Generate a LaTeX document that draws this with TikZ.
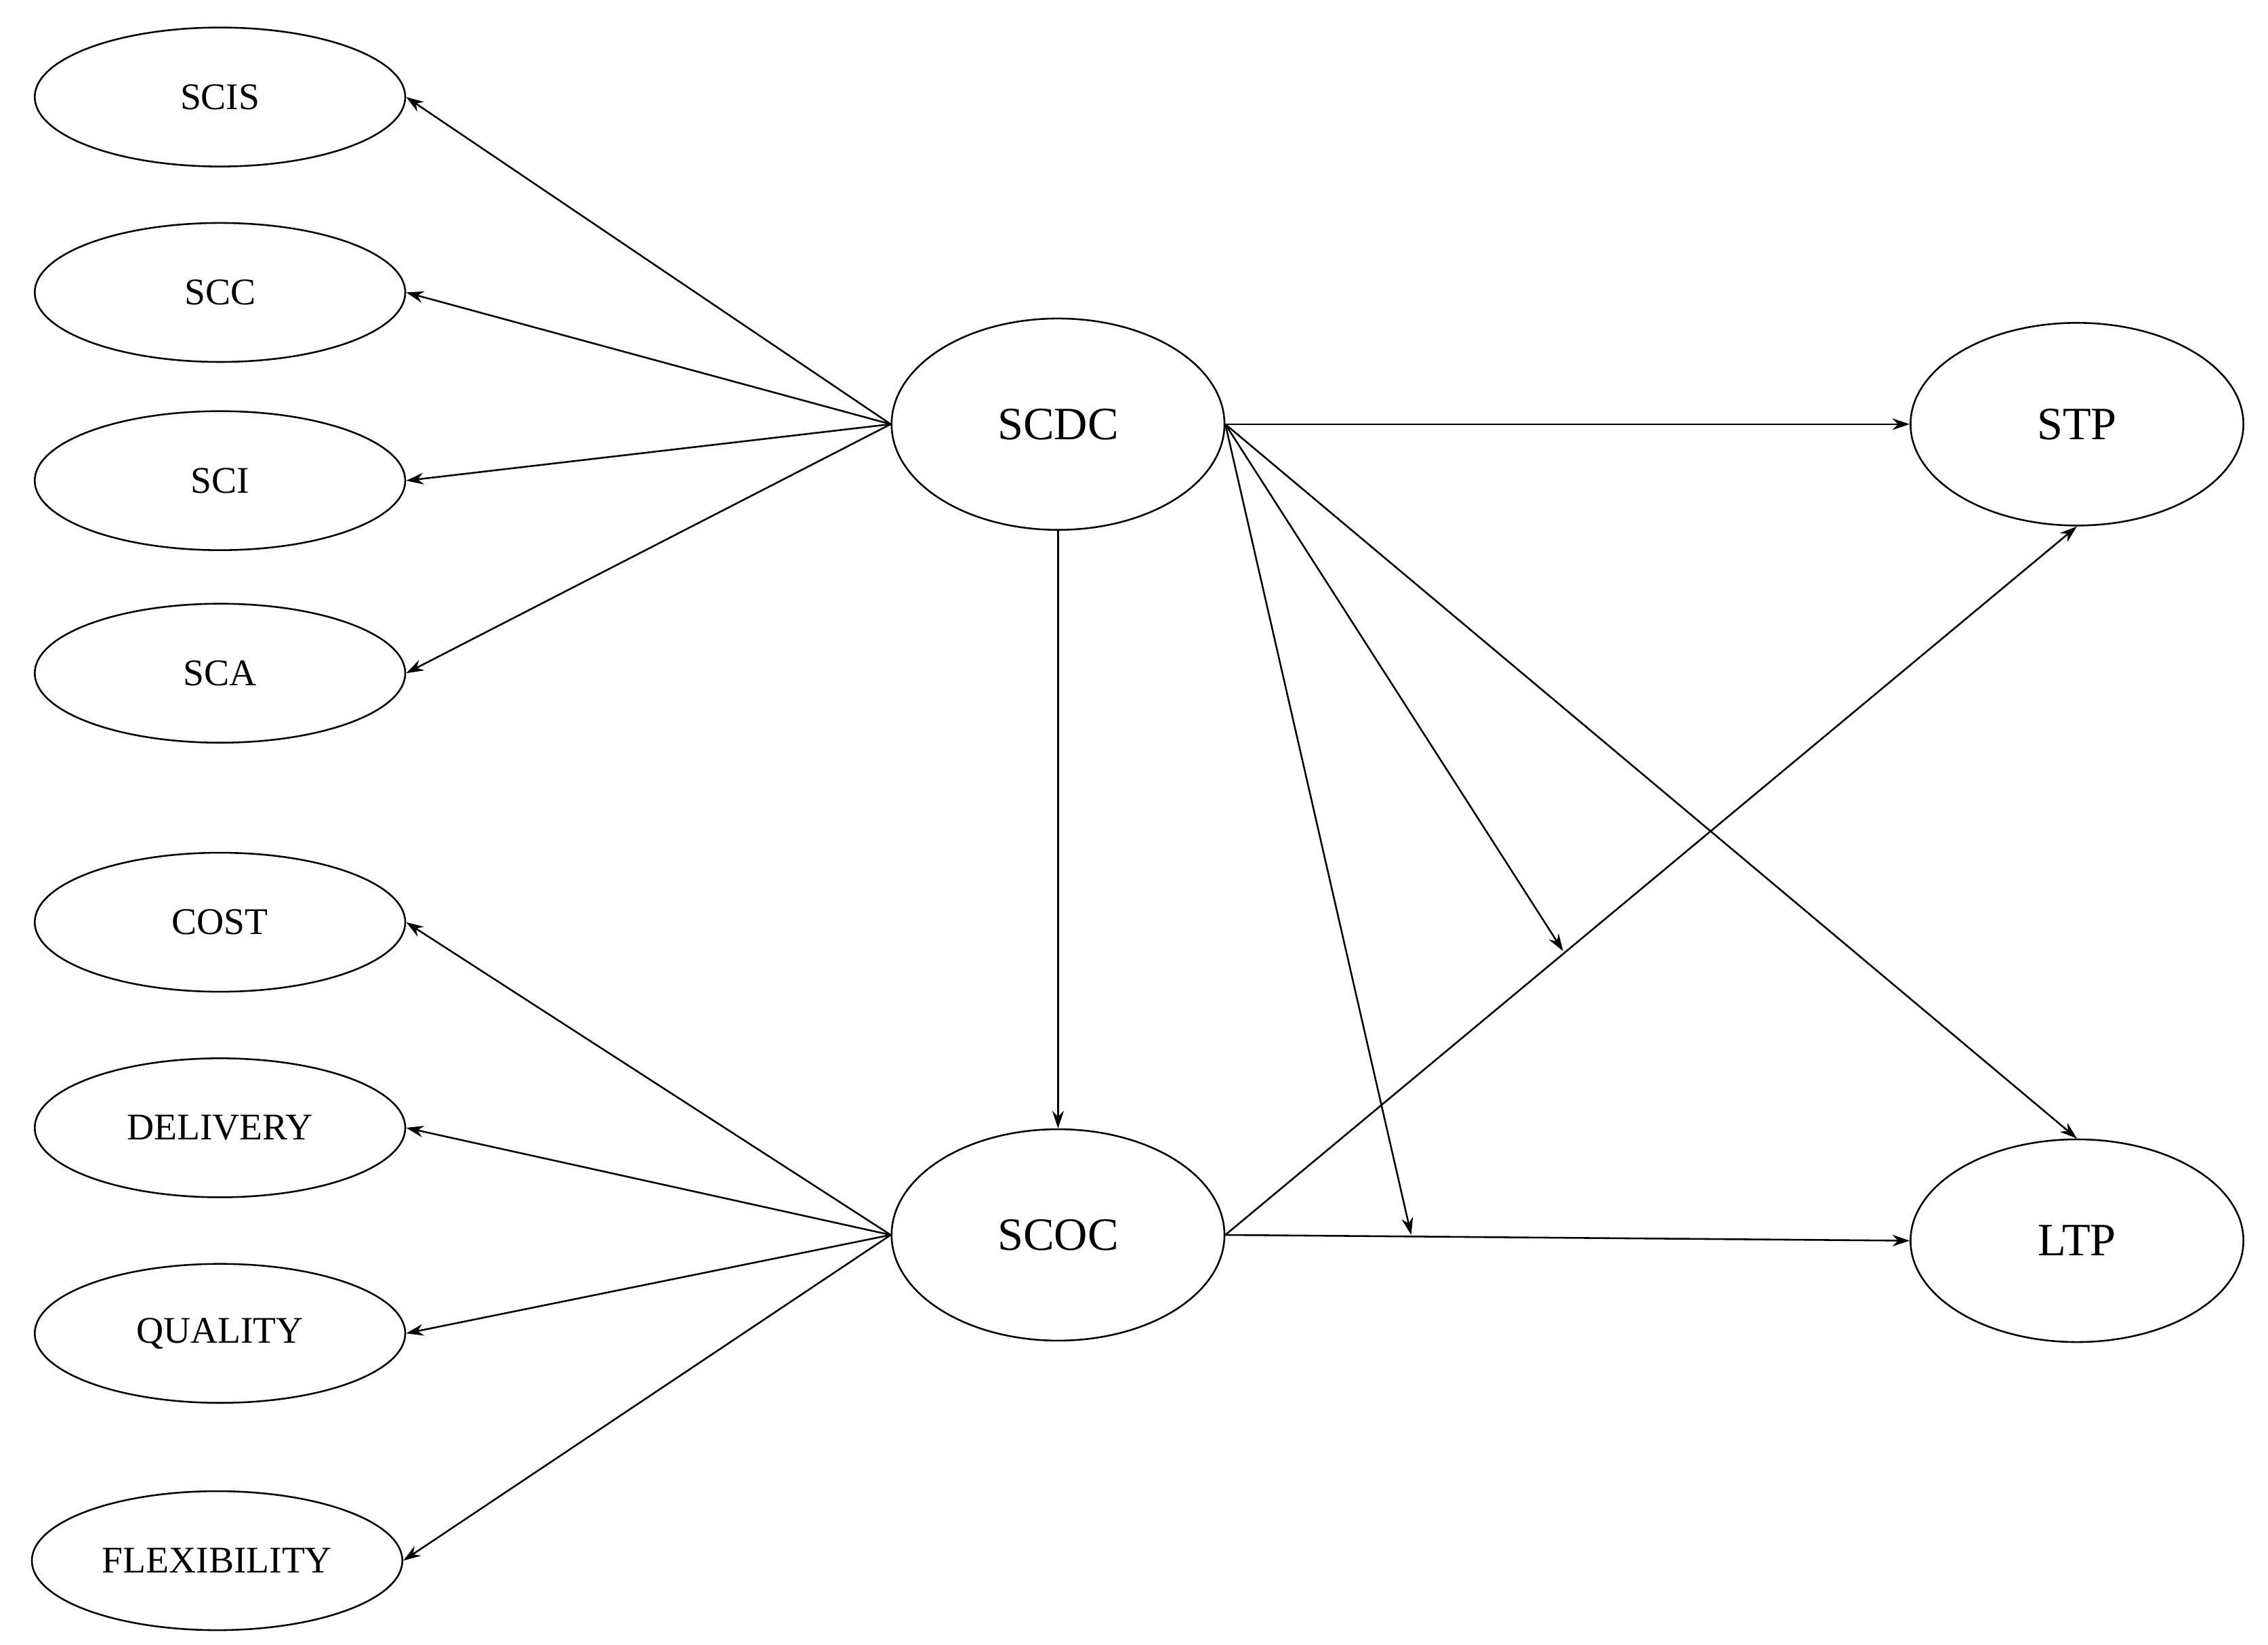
\documentclass[tikz,border=0pt]{standalone}
\usepackage{fontspec}
\setmainfont{Liberation Serif}
\usetikzlibrary{arrows.meta,shapes.geometric}
\begin{document}
\begin{tikzpicture}[x=0.5pt,y=-0.5pt,
  sm/.style={draw,ellipse,minimum width=128pt,minimum height=48pt,inner sep=0pt,font=\fontsize{13}{13}\selectfont,line width=0.6pt},
  bg/.style={draw,ellipse,minimum width=115pt,minimum height=73pt,inner sep=0pt,font=\fontsize{16}{16}\selectfont,line width=0.6pt},
  ar/.style={-{Stealth[length=6pt,width=4pt]},line width=0.6pt}]
\useasboundingbox (0,0) rectangle (1567,1136);
\node[sm] (scis) at (152,67) {SCIS};
\node[sm] (scc) at (152,202) {SCC};
\node[sm] (sci) at (152,332) {SCI};
\node[sm] (sca) at (152,465) {SCA};
\node[sm] (cost) at (152,637) {COST};
\node[sm] (del) at (152,779) {DELIVERY};
\node[sm] (qual) at (152,921) {QUALITY};
\node[sm] (flex) at (150,1078) {FLEXIBILITY};
\node[bg] (scdc) at (731,293) {SCDC};
\node[bg] (scoc) at (731,853) {SCOC};
\node[bg,minimum height=70pt] (stp) at (1435,293) {STP};
\node[bg,minimum height=70pt] (ltp) at (1435,857) {LTP};
\coordinate (m1) at (1080,657);
\coordinate (m2) at (975,853);
\foreach \n in {scis,scc,sci,sca} \draw[ar] (scdc.west) -- (\n.east);
\foreach \n in {cost,del,qual,flex} \draw[ar] (scoc.west) -- (\n.east);
\draw[ar] (scdc.east) -- (stp.west);
\draw[ar] (scdc.south) -- (scoc.north);
\draw[ar] (scdc.east) -- (ltp.north);
\draw[ar] (scdc.east) -- (m1);
\draw[ar] (scdc.east) -- (m2);
\draw[ar] (scoc.east) -- (stp.south);
\draw[ar] (scoc.east) -- (ltp.west);
\end{tikzpicture}
\end{document}
